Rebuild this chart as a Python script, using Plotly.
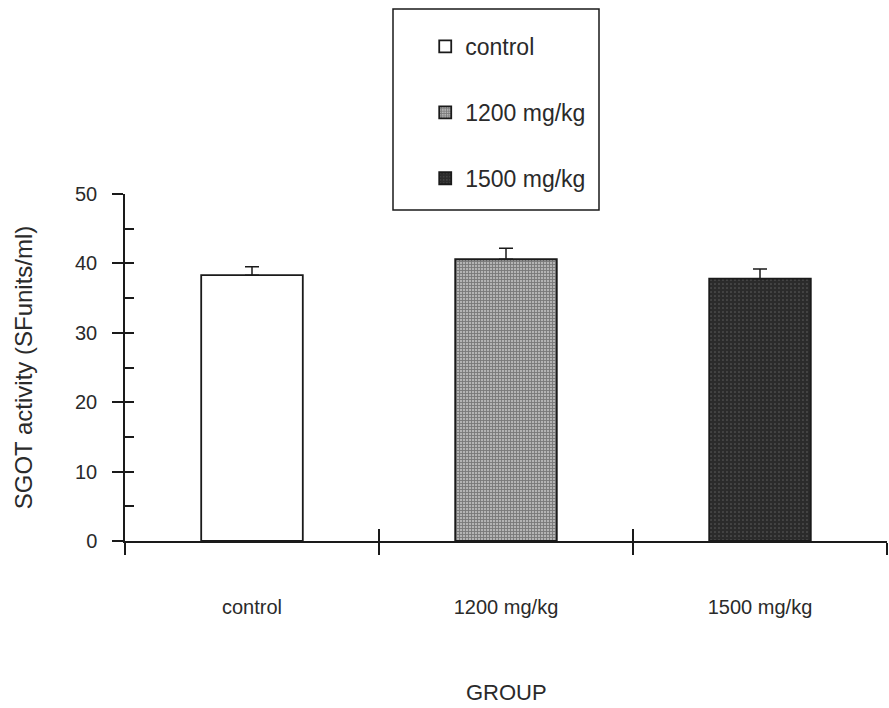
import plotly.graph_objects as go

# SGOT activity by dose group (mean with upper SEM bar)
groups = ["control", "1200 mg/kg", "1500 mg/kg"]
means = [38.3, 40.6, 37.8]
sem = [1.2, 1.6, 1.4]

y_major = [0, 10, 20, 30, 40, 50]
y_all = [0, 5, 10, 15, 20, 25, 30, 35, 40, 45, 50]
x_bounds = [-0.5, 0.5, 1.5, 2.5]

FONT = "Liberation Sans, Arial, Helvetica, sans-serif"
INK = "#1a1a1a"
TXT = "#2a2a2a"

fills = [
    dict(color="white"),
    dict(color="#999999",
         pattern=dict(shape="+", size=3, solidity=0.5, fgcolor="#3c3c3c", bgcolor="#b4b4b4")),
    dict(color="#2b2b2b",
         pattern=dict(shape=".", size=4, solidity=0.12, fgcolor="#9a9a9a", bgcolor="#2b2b2b")),
]

fig = go.Figure()
for i, (g, m, e) in enumerate(zip(groups, means, sem)):
    fig.add_trace(go.Bar(
        x=[i], y=[m], name=g, legendgroup=g, width=0.40,
        marker=dict(line=dict(color=INK, width=1.8), **fills[i]),
        error_y=dict(type="data", symmetric=False, array=[e], arrayminus=[0],
                     color=INK, thickness=1.5, width=7),
    ))

# carrier for the overlaid tick axes
fig.add_trace(go.Scatter(x=[None], y=[None], xaxis="x2", yaxis="y2",
                         showlegend=False, hoverinfo="skip"))

fig.update_layout(
    width=889, height=708,
    margin=dict(l=125, r=2, t=194, b=167),
    paper_bgcolor="white", plot_bgcolor="white",
    font=dict(family=FONT, color=TXT),
    showlegend=True,
    legend=dict(x=0.394, y=1.487, xanchor="left", yanchor="top",
                font=dict(size=23), traceorder="grouped", tracegroupgap=33,
                bgcolor="rgba(0,0,0,0)"),
    xaxis=dict(range=[-0.5, 2.5], tickmode="array", tickvals=[0, 1, 2], ticktext=groups,
               ticks="outside", ticklen=0, tickfont=dict(size=20), ticklabelstandoff=47,
               showline=True, linecolor=INK, linewidth=1.5, showgrid=False, zeroline=False,
               minor=dict(tickmode="array", tickvals=x_bounds, ticks="outside",
                          ticklen=12, tickwidth=1.5, tickcolor=INK, showgrid=False)),
    xaxis2=dict(overlaying="x", anchor="y2", range=[-0.5, 2.5], tickmode="array",
                tickvals=x_bounds, ticks="inside", ticklen=12, tickwidth=1.5, tickcolor=INK,
                showticklabels=False, showline=False, showgrid=False, zeroline=False),
    yaxis=dict(range=[0, 50], tickmode="array", tickvals=y_major, ticks="outside",
               ticklen=11, tickwidth=1.5, tickcolor=INK, tickfont=dict(size=20),
               ticklabelstandoff=11,
               showline=True, linecolor=INK, linewidth=1.5, showgrid=False, zeroline=False,
               title=dict(text="SGOT activity (SFunits/ml)", font=dict(size=24), standoff=36)),
    yaxis2=dict(overlaying="y", anchor="x2", range=[0, 50], tickmode="array",
                tickvals=y_all, ticks="inside", ticklen=9, tickwidth=1.5, tickcolor=INK,
                showticklabels=False, showline=False, showgrid=False, zeroline=False),
    shapes=[dict(type="rect", xref="paper", yref="paper",
                 x0=(393 - 125) / 762, x1=(599 - 125) / 762,
                 y0=(541 - 210) / 347, y1=(541 - 9) / 347,
                 line=dict(color=INK, width=1.5), fillcolor="white", layer="above")],
    annotations=[dict(text="GROUP", xref="paper", yref="paper", x=0.5, y=(541 - 692) / 347,
                      xanchor="center", yanchor="middle", showarrow=False,
                      font=dict(size=22))],
)

fig.write_html("out.html")
